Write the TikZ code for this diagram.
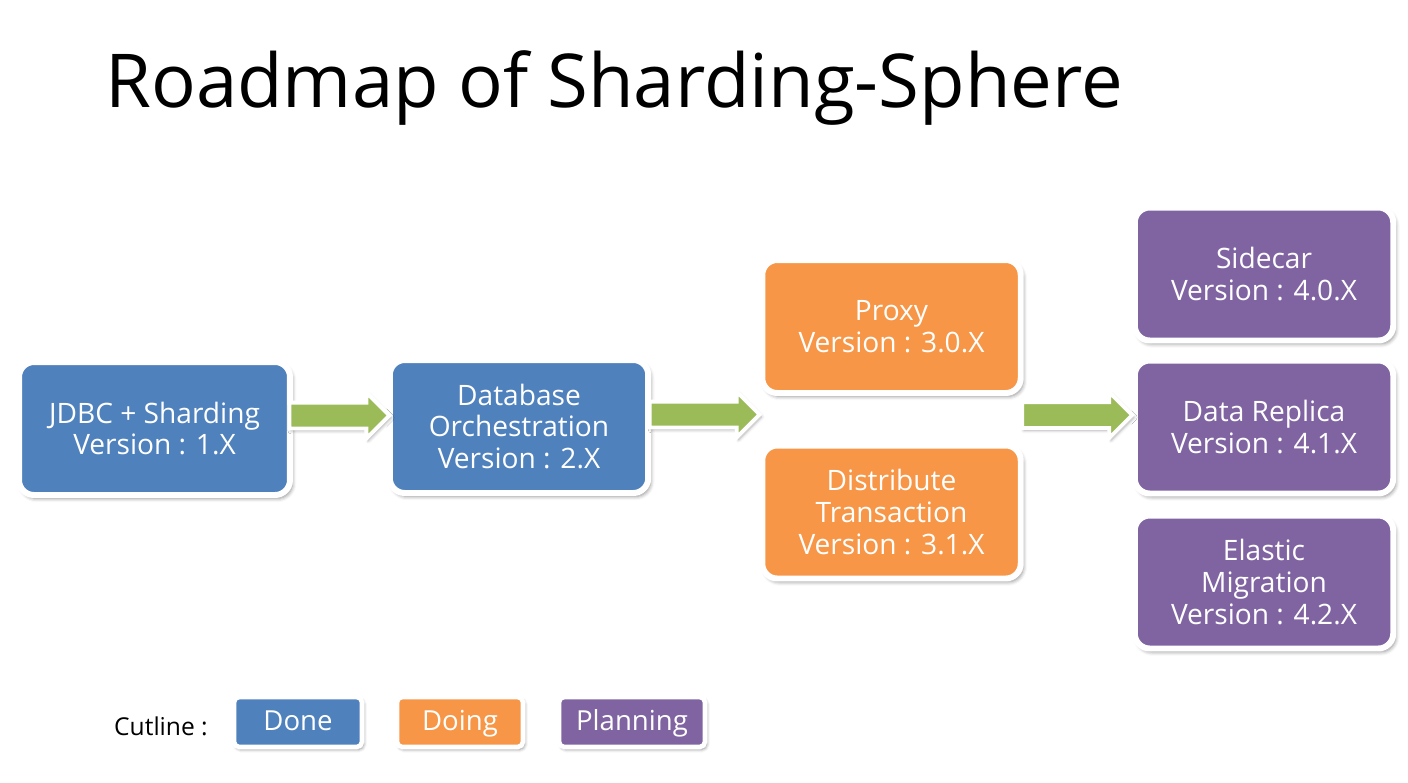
\documentclass[tikz,border=0pt]{standalone}
\usepackage{fontspec}
\setmainfont{Open Sans}
\usepackage{tikz}
\usetikzlibrary{shapes.arrows,shadows.blur,calc,positioning}
\definecolor{doneblue}{HTML}{4F81BD}
\definecolor{doingorange}{HTML}{F79646}
\definecolor{planpurple}{HTML}{8064A2}
\definecolor{flowgreen}{HTML}{9BBB59}
\tikzset{
  stage/.style={rectangle, rounded corners=8.5pt, draw=white, line width=3.4pt,
    text=white, align=center, minimum width=5.17cm, minimum height=2.66cm,
    font=\fontsize{16}{18.2}\selectfont,
    blur shadow={shadow opacity=45, shadow xshift=1.4pt, shadow yshift=-1.9pt, shadow blur radius=2.2pt}},
  done/.style={stage, fill=doneblue},
  doing/.style={stage, fill=doingorange},
  plan/.style={stage, fill=planpurple},
  flow/.style={single arrow, fill=flowgreen, draw=white, line width=2.2pt,
    minimum height=2.2cm, single arrow head extend=0.2cm,
    inner xsep=0pt, inner ysep=0.22cm, xshift=-0.14cm,
    blur shadow={shadow opacity=35, shadow xshift=1pt, shadow yshift=-1.3pt, shadow blur radius=1.8pt}},
  key/.style={rectangle, rounded corners=3pt, draw=white, line width=2.6pt,
    text=white, minimum height=1cm, text height=2.2ex, text depth=0.5ex,
    font=\fontsize{15.7}{18}\selectfont,
    blur shadow={shadow opacity=45, shadow xshift=1pt, shadow yshift=-1.4pt, shadow blur radius=1.8pt}}
}
\begin{document}
\begin{tikzpicture}[x=0.02cm,y=-0.02cm]
    \useasboundingbox (0,0) rectangle (1408,782);
    \node[anchor=base west, font=\fontsize{42.3}{48}\selectfont] (title) at (99,107) {Roadmap of Sharding-Sphere};
    % stages
    \node[done, minimum width=5.42cm] (jdbc) at (154.5,428.5) {JDBC + Sharding\\Version : 1.X};
    \node[done] (orch) at (519,426.5) {Database\\Orchestration\\Version : 2.X};
    \node[doing] (proxy) at (891.5,326.5) {Proxy\\Version : 3.0.X};
    \node[doing] (dist) at (891.5,512) {Distribute\\Transaction\\Version : 3.1.X};
    \node[plan] (sidecar) at (1264,274) {Sidecar\\Version : 4.0.X};
    \node[plan] (replica) at (1264,427) {Data Replica\\Version : 4.1.X};
    \node[plan] (elastic) at (1264,582) {Elastic\\Migration\\Version : 4.2.X};
    % arrows
    \node[flow, minimum height=2cm] (f1) at ($(jdbc.east)!0.5!(orch.west)+(0,-12)$) {};
    \node[flow] (f2) at ($(orch.east)!0.5!(orch.east -| proxy.west)+(0,-12)$) {};
    \node[flow] (f3) at ($(replica.west -| dist.east)!0.5!(replica.west)+(0,-12)$) {};
    % cutline
    \node[font=\fontsize{14}{16}\selectfont] (cutline) at (161,726) {Cutline :};
    \node[key, fill=doneblue, minimum width=2.56cm] (kdone) at (298,722) {Done};
    \node[key, fill=doingorange, minimum width=2.52cm] (kdoing) at (460,722) {Doing};
    \node[key, fill=planpurple, minimum width=2.92cm] (kplan) at (632,722) {Planning};
\end{tikzpicture}
\end{document}
